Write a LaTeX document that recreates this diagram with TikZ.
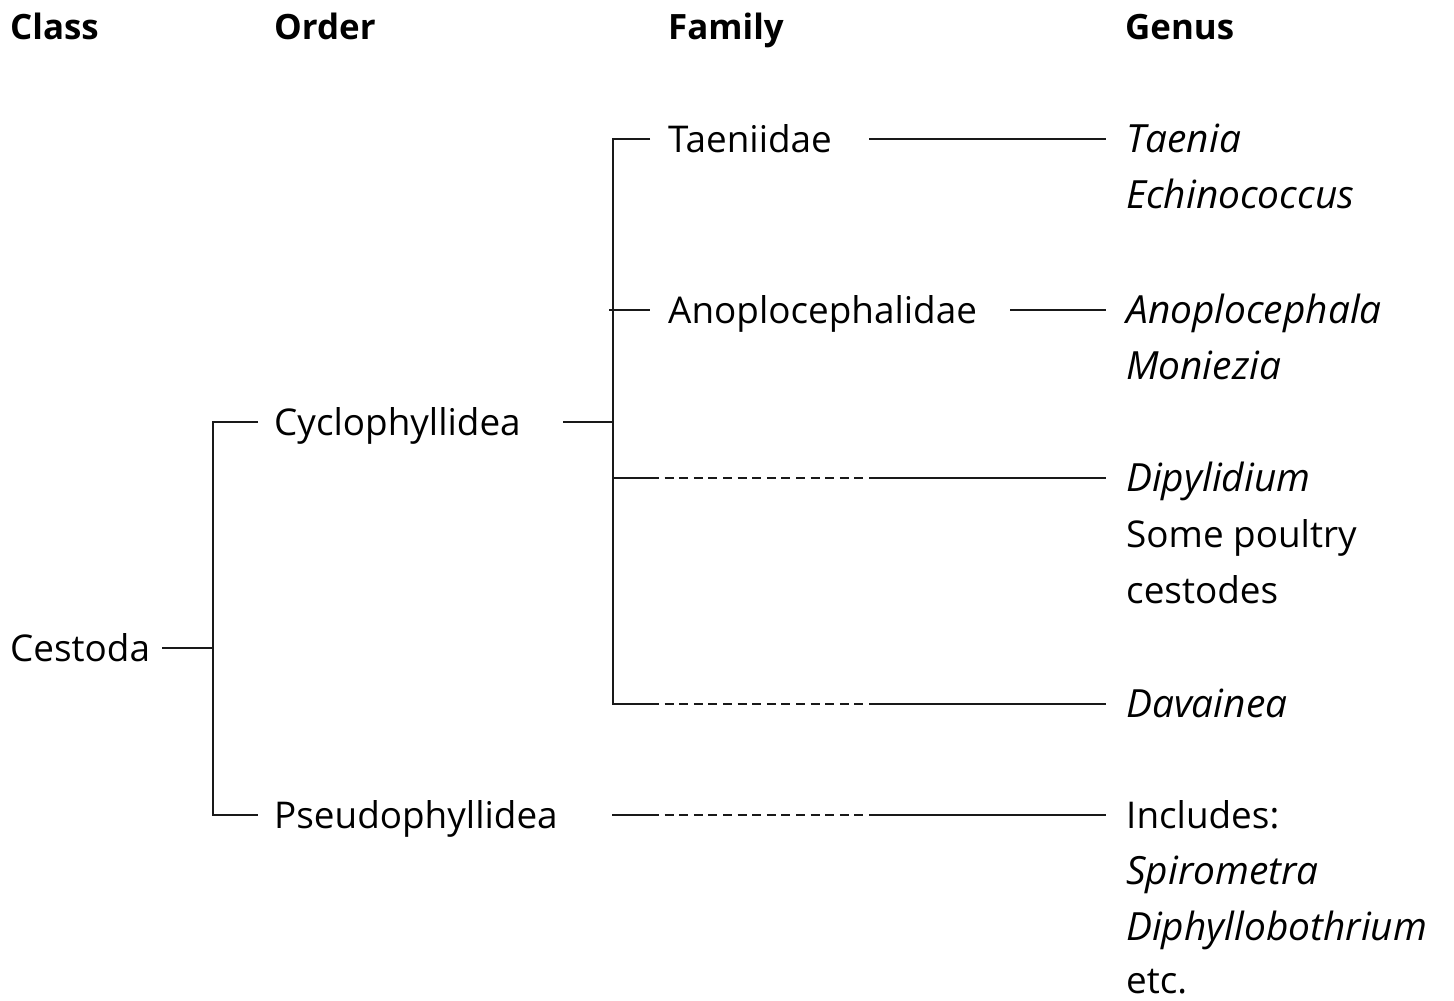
\documentclass[tikz,border=0pt]{standalone}
\usepackage{fontspec}
\setmainfont{Open Sans}
\begin{document}
\begin{tikzpicture}[x=1bp,y=-1bp,
  lbl/.style={anchor=base west,inner sep=0pt,font=\fontsize{37}{44}\selectfont},
  hdr/.style={lbl,font=\fontsize{35}{42}\selectfont\bfseries},
  gen/.style={lbl,font=\fontsize{39}{46}\selectfont\itshape},
  ln/.style={line width=2.8bp,black!90},
  dsh/.style={ln,dash pattern=on 9bp off 5.6bp}]
\useasboundingbox (0,0) rectangle (1454,1000);
% headers
\node[hdr] (hclass) at (10,39) {Class};
\node[hdr] (horder) at (274,39) {Order};
\node[hdr] (hfamily) at (668,39) {Family};
\node[hdr] (hgenus) at (1125,39) {Genus};
% class / order
\node[lbl] (cestoda) at (10,661) {Cestoda};
\node[lbl] (cyclo) at (274,435) {Cyclophyllidea};
\node[lbl] (pseudo) at (274,828) {Pseudophyllidea};
% families
\node[lbl] (taen) at (668,152) {Taeniidae};
\node[lbl] (anop) at (668,323) {Anoplocephalidae};
% genera
\node[gen] (g1) at (1126,152) {Taenia};
\node[gen] (g2) at (1126,208) {Echinococcus};
\node[gen] (g3) at (1126,323) {Anoplocephala};
\node[gen] (g4) at (1126,379) {Moniezia};
\node[gen] (g5) at (1126,491) {Dipylidium};
\node[lbl] (g6) at (1126,547) {Some poultry};
\node[lbl] (g7) at (1126,603) {cestodes};
\node[gen] (g8) at (1126,717) {Davainea};
\node[lbl] (g9) at (1126,828) {Includes:};
\node[gen] (g10) at (1126,884) {Spirometra};
\node[gen] (g11) at (1126,940) {Diphyllobothrium};
\node[lbl] (g12) at (1126,993) {etc.};
% coordinates
\coordinate (c0) at (162,648);
\coordinate (c1) at (213,648);
\coordinate (ctop) at (213,422);
\coordinate (cbot) at (213,815);
\coordinate (ctopE) at (258,422);
\coordinate (cbotE) at (258,815);
\coordinate (f0) at (563,422);
\coordinate (f1) at (613,422);
\coordinate (ftop) at (613,139);
\coordinate (fbot) at (613,704);
\coordinate (ftopE) at (650,139);
\coordinate (fa0) at (609,310);
\coordinate (faE) at (650,310);
\coordinate (fd) at (613,478);
\coordinate (fdA) at (650,478);
\coordinate (fdB) at (878,478);
\coordinate (fdC) at (1106,478);
\coordinate (fvA) at (650,704);
\coordinate (fvB) at (878,704);
\coordinate (fvC) at (1106,704);
\coordinate (pA) at (612,815);
\coordinate (pB) at (650,815);
\coordinate (pC) at (878,815);
\coordinate (pD) at (1106,815);
\coordinate (t0) at (869,139);
\coordinate (t1) at (1106,139);
\coordinate (a0) at (1010,310);
\coordinate (a1) at (1106,310);
% tree lines
\draw[ln] (c0) -- (c1);
\draw[ln] (ctopE) -- (ctop) -- (cbot) -- (cbotE);
\draw[ln] (f0) -- (f1);
\draw[ln] (ftopE) -- (ftop) -- (fbot) -- (fvA);
\draw[ln] (fa0) -- (faE);
\draw[ln] (fd) -- (fdA);
\draw[dsh] (fdA) -- (fdB);
\draw[ln] (fdB) -- (fdC);
\draw[dsh] (fvA) -- (fvB);
\draw[ln] (fvB) -- (fvC);
\draw[ln] (pA) -- (pB);
\draw[dsh] (pB) -- (pC);
\draw[ln] (pC) -- (pD);
\draw[ln] (t0) -- (t1);
\draw[ln] (a0) -- (a1);
\end{tikzpicture}
\end{document}
